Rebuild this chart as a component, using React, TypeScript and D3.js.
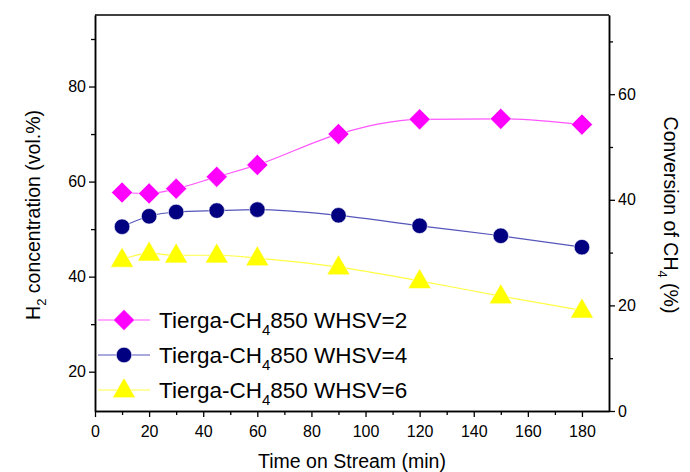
import React, { useEffect, useRef } from "react";
import * as d3 from "d3";

// time on stream (min)
const times = [10, 20, 30, 45, 60, 90, 120, 150, 180];
// H2 concentration (vol.%) per WHSV
const whsv2 = [57.7, 57.5, 58.5, 61.0, 63.5, 70.0, 73.1, 73.2, 72.0];
const whsv4 = [50.5, 52.7, 53.6, 53.9, 54.1, 52.9, 50.7, 48.6, 46.2];
const whsv6 = [43.6, 44.9, 44.5, 44.5, 43.9, 42.0, 39.1, 35.9, 32.9];
const seriesNames = ["WHSV=2", "WHSV=4", "WHSV=6"];

const xTicks = [0, 20, 40, 60, 80, 100, 120, 140, 160, 180];
const leftTicks = [20, 40, 60, 80];
const rightTicks = [0, 20, 40, 60];

export default function App() {
  const ref = useRef<SVGSVGElement>(null);

  useEffect(() => {
    const svg = d3.select(ref.current);
    svg.selectAll("*").remove();
    const W = 690, H = 472;
    const m = { left: 95, right: 609, top: 15, bottom: 411 };
    const font = "Liberation Sans, Arial, sans-serif";

    const x = d3.scaleLinear().domain([0, 190]).range([m.left, m.right]);
    const y = d3.scaleLinear().domain([11.73, 95.05]).range([m.bottom, m.top]);
    const y2 = d3.scaleLinear().domain([0, 75]).range([m.bottom, m.top]);

    svg.append("rect").attr("width", W).attr("height", H).attr("fill", "#fff");

    // axes, major + minor ticks
    const gx = svg.append("g").attr("transform", `translate(0,${m.bottom})`)
      .call(d3.axisBottom(x).tickValues(xTicks).tickSize(6).tickSizeOuter(0).tickFormat(d3.format("d")));
    svg.append("g").attr("transform", `translate(0,${m.bottom})`)
      .call(d3.axisBottom(x).tickValues(d3.range(10, 190, 20)).tickSize(4).tickSizeOuter(0).tickFormat(() => ""));

    const gy = svg.append("g").attr("transform", `translate(${m.left},0)`)
      .call(d3.axisLeft(y).tickValues(leftTicks).tickSize(6).tickSizeOuter(0));
    svg.append("g").attr("transform", `translate(${m.left},0)`)
      .call(d3.axisLeft(y).tickValues([30, 50, 70, 90]).tickSize(4).tickSizeOuter(0).tickFormat(() => ""));

    const gy2 = svg.append("g").attr("transform", `translate(${m.right},0)`)
      .call(d3.axisRight(y2).tickValues(rightTicks).tickSize(6).tickSizeOuter(0));
    svg.append("g").attr("transform", `translate(${m.right},0)`)
      .call(d3.axisRight(y2).tickValues([10, 30, 50, 70]).tickSize(4).tickSizeOuter(0).tickFormat(() => ""));

    svg.selectAll(".domain").attr("stroke", "#000").attr("stroke-width", 1.5);
    svg.selectAll(".tick line").attr("stroke", "#000").attr("stroke-width", 1.3);
    [gx, gy, gy2].forEach((g) =>
      g.selectAll("text").attr("font-family", font).attr("font-size", 16).attr("fill", "#000"));
    gx.selectAll("text").attr("dy", "1.05em");

    // top border
    svg.append("line").attr("x1", m.left).attr("x2", m.right).attr("y1", m.top).attr("y2", m.top)
      .attr("stroke", "#000").attr("stroke-width", 1.5);

    const colors = ["#ff00ff", "#000080", "#ffff00"];
    const lineColors = ["#ff55ff", "#5555bb", "#ffff44"];
    const data = [whsv2, whsv4, whsv6];
    const symbols = [d3.symbolSquare, d3.symbolCircle, d3.symbolTriangle];
    const sizes = [225, 190, 230];
    const rot = (k: number) => (k === 0 ? "rotate(45)" : "");
    const dy = (k: number) => (k === 2 ? 1 : 0);

    const line = d3.line<number>()
      .x((d, i) => x(times[i]))
      .y((d) => y(d))
      .curve(d3.curveMonotoneX);

    data.forEach((vals, k) => {
      svg.append("path").attr("d", line(vals)).attr("fill", "none")
        .attr("stroke", lineColors[k]).attr("stroke-width", 1.2);
      svg.selectAll(null).data(vals).enter().append("path")
        .attr("d", d3.symbol().type(symbols[k]).size(sizes[k])())
        .attr("transform", (d, i) => `translate(${x(times[i])},${y(d) + dy(k)}) ${rot(k)}`)
        .attr("fill", colors[k]).attr("stroke", "#fff").attr("stroke-width", 0.6);
    });

    // legend
    const ly = [320, 355, 390];
    seriesNames.forEach((name, k) => {
      svg.append("line").attr("x1", 98).attr("x2", 150).attr("y1", ly[k]).attr("y2", ly[k])
        .attr("stroke", lineColors[k]).attr("stroke-width", 1.2);
      svg.append("path").attr("d", d3.symbol().type(symbols[k]).size(sizes[k])())
        .attr("transform", `translate(124,${ly[k] + dy(k)}) ${rot(k)}`)
        .attr("fill", colors[k]).attr("stroke", "#fff").attr("stroke-width", 0.6);
      const t = svg.append("text").attr("x", 159).attr("y", ly[k] + 8)
        .attr("font-family", font).attr("font-size", 22.5).attr("fill", "#000");
      t.append("tspan").text("Tierga-CH");
      t.append("tspan").text("4").attr("font-size", 15).attr("dy", 7);
      t.append("tspan").text("850 " + name).attr("dy", -7);
    });

    // axis titles
    svg.append("text").attr("x", 352).attr("y", 468).attr("text-anchor", "middle")
      .attr("font-family", font).attr("font-size", 19.5).text("Time on Stream (min)");

    const lt = svg.append("text").attr("transform", "translate(40,215) rotate(-90)")
      .attr("text-anchor", "middle").attr("font-family", font).attr("font-size", 19.5);
    lt.append("tspan").text("H");
    lt.append("tspan").text("2").attr("font-size", 13).attr("dy", 6);
    lt.append("tspan").text(" concentration (vol.%)").attr("dy", -6);

    const rt = svg.append("text").attr("transform", "translate(664,215) rotate(90)")
      .attr("text-anchor", "middle").attr("font-family", font).attr("font-size", 19.5);
    rt.append("tspan").text("Conversion of CH");
    rt.append("tspan").text("4").attr("font-size", 13).attr("dy", 6);
    rt.append("tspan").text(" (%)").attr("dy", -6);
  }, []);

  return <svg ref={ref} width={690} height={472} style={{ display: "block", position: "absolute", left: 0, top: 0 }} />;
}
